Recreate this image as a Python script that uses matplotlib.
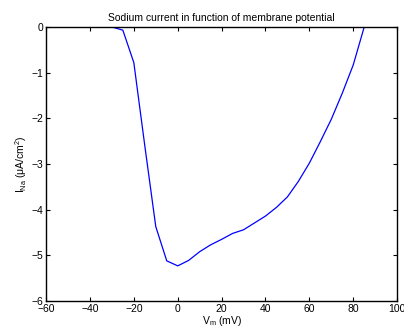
import matplotlib
matplotlib.use("Agg")
import matplotlib.pyplot as plt
import numpy as np

# membrane potential (mV) and sodium current (uA/cm^2)
v_m = [-60, -55, -50, -45, -40, -35, -30, -25, -20, -15, -10, -5, 0,
       5, 10, 15, 20, 25, 30, 35, 40, 45, 50, 55, 60, 65, 70, 75, 80,
       85, 90, 95, 100]
i_na = [0, 0, 0, 0, 0, 0, 0, -0.07, -0.78, -2.6, -4.37, -5.12, -5.23,
        -5.11, -4.92, -4.77, -4.65, -4.52, -4.44, -4.29, -4.14, -3.95,
        -3.72, -3.38, -2.98, -2.51, -2.02, -1.45, -0.83,
        0, 0, 0, 0]

x_ticks = np.arange(-60, 101, 20)
y_ticks = np.arange(-6, 1, 1)

plt.rcParams['font.family'] = ['Liberation Sans', 'DejaVu Sans']
plt.rcParams['mathtext.fontset'] = 'custom'
plt.rcParams['mathtext.rm'] = 'Liberation Sans'
plt.rcParams['mathtext.it'] = 'Liberation Sans'

fig = plt.figure(figsize=(4.04, 3.29), dpi=100)
ax = fig.add_axes([0.114, 0.085, 0.869, 0.833])
ax.plot(v_m, i_na, color='#0000ff', linewidth=0.9)

ax.set_xlim(-60, 100)
ax.set_ylim(-6, 0)
ax.set_xticks(x_ticks)
ax.set_yticks(y_ticks)
ax.tick_params(direction='in', top=True, right=True, labelsize=7.5,
               length=3, width=0.8, pad=2)
for s in ax.spines.values():
    s.set_linewidth(1.0)

ax.set_title('Sodium current in function of membrane potential', fontsize=7.5, pad=4)
ax.set_xlabel(r'V$_\mathrm{m}$ (mV)', fontsize=7.5, labelpad=0)
ax.set_ylabel(r'I$_\mathrm{Na}$ ($\mu$A/cm$^2$)', fontsize=7.5, labelpad=2)

fig.savefig('out.png', dpi=100)
